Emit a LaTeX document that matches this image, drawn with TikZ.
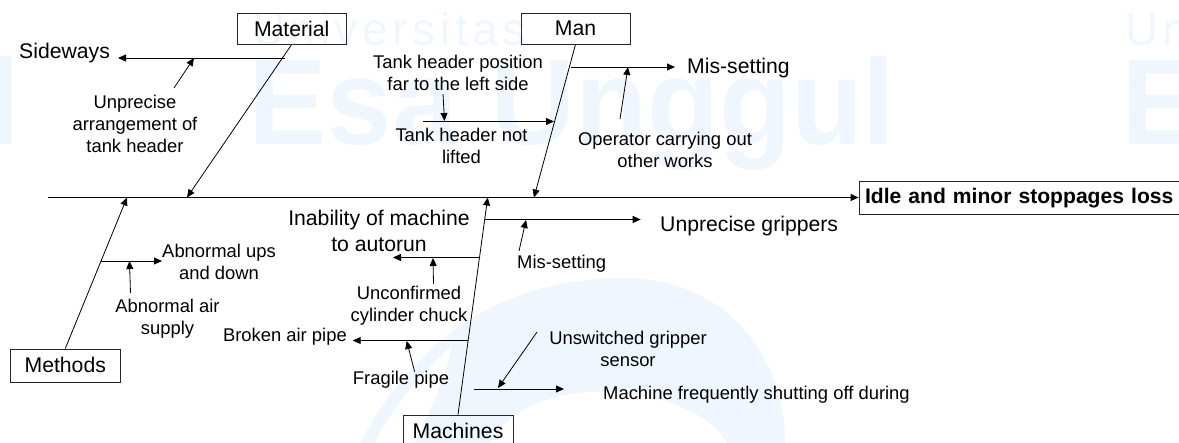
\documentclass[tikz,border=0pt]{standalone}
\usepackage{fontspec}
\setmainfont{Liberation Sans}
\newfontfamily\wmtrack[LetterSpace=10]{Liberation Sans}
\usetikzlibrary{arrows.meta}
\definecolor{wm}{HTML}{F0F6FE}
\tikzset{
  x=1pt,y=-1pt,
  box/.style={draw=black!85,line width=0.8pt,inner sep=0pt,font=\fontsize{21.2}{24}\selectfont},
  small/.style={inner sep=0pt,align=center,font=\fontsize{18.4}{22}\selectfont},
  big/.style={inner sep=0pt,align=center,font=\fontsize{21.2}{26}\selectfont},
  bone/.style={line width=0.8pt,-{Triangle[length=8pt,width=7pt]}},
  wmbig/.style={inner sep=0pt,anchor=base west,text=wm,xscale=0.965,transform shape,font=\fontsize{122}{130}\selectfont\bfseries},
  wmsmall/.style={inner sep=0pt,anchor=base west,text=wm,font=\fontsize{46}{50}\wmtrack},
}
\begin{document}
\begin{tikzpicture}
\useasboundingbox (0,0) rectangle (1179,443);
\clip (0,0) rectangle (1179,443);
% watermark
\node[wmbig] (wma) at (248,145) {Esa Unggul};
\node[wmbig,anchor=base east] (wmb) at (20,145) {l};
\node[wmbig] (wmc) at (1121,145) {E};
\node[wmsmall] (wmd) at (252,46) {Universitas};
\node[wmsmall] (wme) at (1125,46) {Un};
\fill[wm] (360,443) .. controls (420,330) and (510,278) .. (625,278) .. controls (720,278) and (785,350) .. (785,443) -- (727,443) .. controls (710,410) and (650,390) .. (590,392) .. controls (540,395) and (505,415) .. (490,443) -- (415,443) .. controls (440,390) and (450,360) .. (452,345) .. controls (420,375) and (390,410) .. (375,443) -- cycle;
% boxes
\node[box,minimum width=108.5pt,minimum height=31pt] (material) at (291.75,28.5) {Material};
\node[box,minimum width=109pt,minimum height=31pt] (man) at (575.5,28.5) {Man};
\node[box,minimum width=109.5pt,minimum height=33pt] (methods) at (65.25,365.5) {\raisebox{1pt}{Methods}};
\node[box,minimum width=110pt,minimum height=33pt] (machines) at (458,431.5) {\raisebox{1pt}{Machines}};
\node[draw=black!85,line width=0.8pt,inner sep=0pt,minimum width=325pt,minimum height=33pt,text width=325pt,font=\fontsize{21.1}{24}\selectfont\bfseries] (idle) at (1021.5,197.5) {\hspace{6pt}\raisebox{-6.5pt}[0pt][0pt]{Idle and minor stoppages loss}};
% spine
\coordinate (tail) at (48,197.5);
\draw[bone] (tail) -- (idle.west);
\coordinate (matj) at (187,197.5);
\coordinate (manj) at (534,197.5);
\coordinate (metj) at (127,197.5);
\coordinate (macj) at (487.7,197.5);
\draw[bone] (material.south) -- (matj);
\draw[bone] (man.south) -- (manj);
\draw[bone] (methods.north) -- (metj);
\draw[bone] (machines.north) -- (macj);
% texts
\node[big,anchor=west] (sideways) at (19,53) {Sideways};
\node[small] (unprecise) at (135,124) {Unprecise\\arrangement of\\tank header};
\node[small] (tankpos) at (458,73) {Tank header position\\far to the left side};
\node[small] (tanknot) at (461.5,146) {Tank header not\\lifted};
\node[small] (operator) at (665,150) {Operator carrying out\\other works};
\node[big,anchor=west] (mis) at (687,68) {Mis-setting};
\node[small] (ups) at (219,262) {Abnormal ups\\and down};
\node[small] (air) at (167.5,319) {Abnormal air\\supply};
\node[big] (inability) at (379,231) {Inability of machine\\to autorun};
\node[big,anchor=west] (grippers) at (660,226) {Unprecise grippers};
\node[small] (mis2) at (561.7,264) {Mis-setting};
\node[small] (unconf) at (409,306) {Unconfirmed\\cylinder chuck};
\node[small,anchor=east] (broken) at (347,337) {Broken air pipe};
\node[small] (fragile) at (401,380) {Fragile pipe};
\node[small] (unsw) at (628,349) {Unswitched gripper\\sensor};
\node[small,anchor=west] (freq) at (603,395) {Machine frequently shutting off during};
% branches
\coordinate (a1) at (285,58); \coordinate (a2) at (118,58);
\coordinate (a3) at (174,88); \coordinate (a4) at (194,58);
\draw[bone] (a1) -- (a2);
\draw[bone] (a3) -- (a4);
\coordinate (b1) at (570.7,67); \coordinate (b2) at (675,67);
\coordinate (b3) at (620,119); \coordinate (b4) at (628,67);
\draw[bone] (b1) -- (b2);
\draw[bone] (b3) -- (b4);
\coordinate (c1) at (423,121.5); \coordinate (c2) at (554,121.5);
\coordinate (c3) at (443,94); \coordinate (c4) at (444.5,121);
\draw[bone] (c1) -- (c2);
\draw[bone] (c3) -- (c4);
\coordinate (d1) at (101,261); \coordinate (d2) at (162,261);
\coordinate (d3) at (130.5,293); \coordinate (d4) at (129.5,261);
\draw[bone] (d1) -- (d2);
\draw[bone] (d3) -- (d4);
\coordinate (e1) at (485,219.5); \coordinate (e2) at (640.7,219.5);
\coordinate (e3) at (519,251); \coordinate (e4) at (526,220);
\draw[bone] (e1) -- (e2);
\draw[bone] (e3) -- (e4);
\coordinate (f1) at (479,257.5); \coordinate (f2) at (393,257.5);
\coordinate (f3) at (433.5,284); \coordinate (f4) at (433,258);
\draw[bone] (f1) -- (f2);
\draw[bone] (f3) -- (f4);
\coordinate (g1) at (468,340.5); \coordinate (g2) at (352.7,340.5);
\coordinate (g3) at (414.7,372); \coordinate (g4) at (406.7,341);
\draw[bone] (g1) -- (g2);
\draw[bone] (g3) -- (g4);
\coordinate (h1) at (474,389); \coordinate (h2) at (564,389);
\coordinate (h3) at (537,332); \coordinate (h4) at (498,388);
\draw[bone] (h1) -- (h2);
\draw[bone] (h3) -- (h4);
\end{tikzpicture}
\end{document}
